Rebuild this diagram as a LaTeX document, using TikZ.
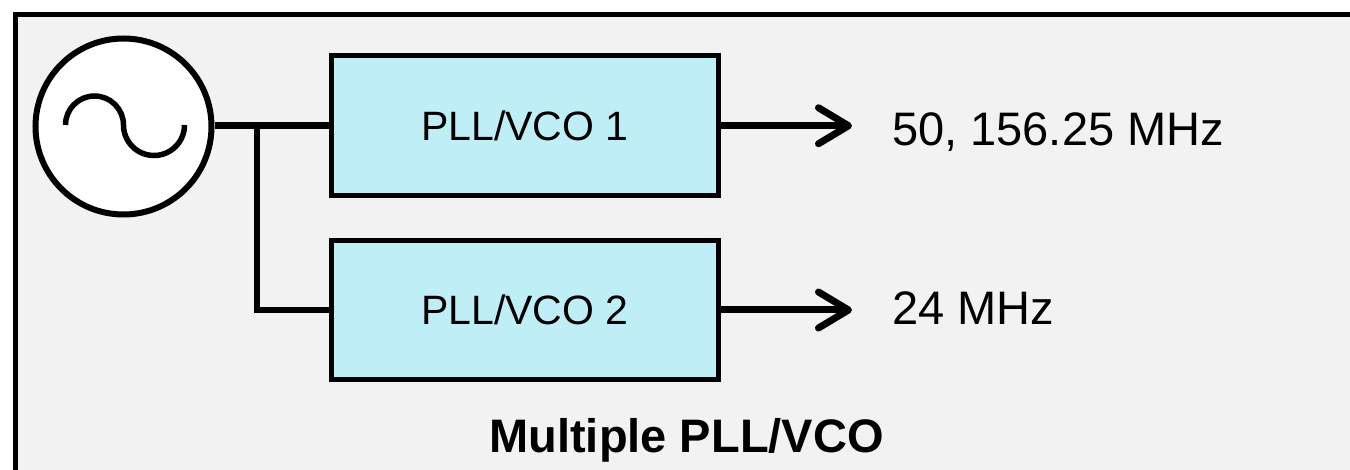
\documentclass[tikz,border=0pt]{standalone}
\usepackage{fontspec}
\setmainfont{Liberation Sans}
\usetikzlibrary{arrows.meta}
\definecolor{panelgrey}{RGB}{242,242,242}
\definecolor{boxcyan}{RGB}{192,238,246}
\tikzset{
  pllbox/.style={draw, line width=5pt, fill=boxcyan, minimum width=386.5pt, inner sep=0pt,
    font=\fontsize{41}{48}\selectfont},
  oscnode/.style={draw, line width=6pt, fill=white, circle, minimum size=176pt, inner sep=0pt},
  wire/.style={line width=6.8pt},
  outarrow/.style={line width=7pt, -{Straight Barb[length=30pt,width=36pt,round]}},
  freqlabel/.style={anchor=base west, inner sep=0pt, font=\fontsize{47}{56}\selectfont},
  titlelabel/.style={anchor=base, inner sep=0pt, font=\fontsize{47}{56}\selectfont\bfseries}
}
\begin{document}
\begin{tikzpicture}[x=1pt,y=-1pt]
\useasboundingbox (0,0) rectangle (1350,470);
\clip (0,0) rectangle (1350,470);
\fill[white] (0,0) rectangle (1350,470);
\draw[line width=5.5pt, fill=panelgrey] (15.5,14.5) rectangle (1370,490);

\node[oscnode] (osc) at (123.5,126.5) {};
\draw[line width=5.5pt] (65.5,125) arc[start angle=180,end angle=360,radius=29]
  arc[start angle=180,end angle=0,radius=30.5];

\node[pllbox, minimum height=139.5pt] (box1) at (524.75,125.75) {PLL/VCO 1};
\node[pllbox, minimum height=139pt] (box2) at (524.75,310) {PLL/VCO 2};

\coordinate (j) at (257,125.75);
\draw[wire] (osc.east |- box1.west) -- (box1.west);
\draw[wire] (j) |- (box2.west);

\coordinate (o1) at (852,125.75);
\coordinate (o2) at (852,310);
\draw[outarrow] (box1.east) -- (o1);
\draw[outarrow] (box2.east) -- (o2);

\node[freqlabel] (f1) at (892,145.7) {50, 156.25 MHz};
\node[freqlabel] (f2) at (892,325) {24 MHz};

\node[titlelabel] (title) at (686.5,452) {Multiple PLL/VCO};
\end{tikzpicture}
\end{document}
